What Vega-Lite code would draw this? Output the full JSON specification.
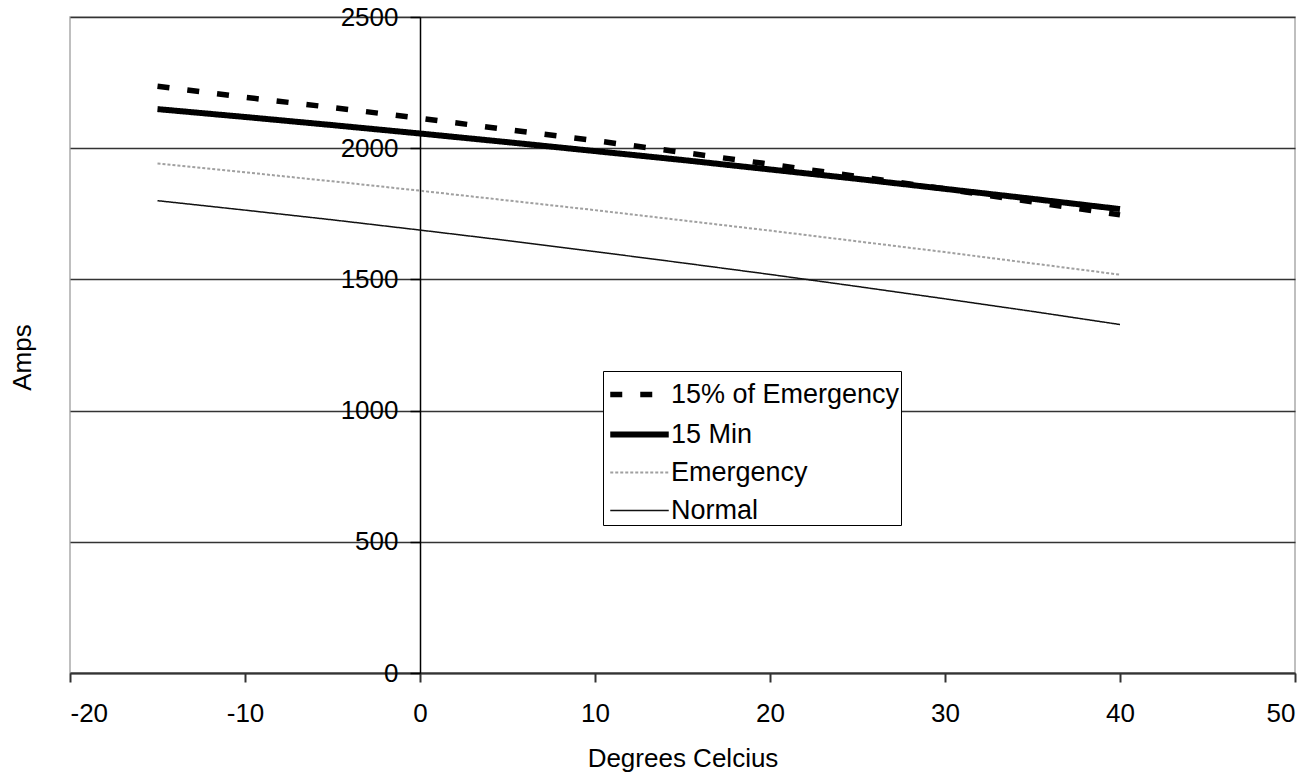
{
  "$schema": "https://vega.github.io/schema/vega-lite/v6.json",
  "width": 1225,
  "height": 656,
  "autosize": {"type": "none"},
  "padding": {"left": 70, "top": 17, "right": 20, "bottom": 104},
  "background": "white",
  "config": {
    "font": "Liberation Sans",
    "view": {"stroke": "#aaaaaa", "strokeWidth": 1.5},
    "axis": {"labelFont": "Liberation Sans", "titleFont": "Liberation Sans", "labelColor": "#000", "titleColor": "#000", "labelFontSize": 26, "titleFontSize": 26, "titleFontWeight": "normal"},
    "legend": {"labelFont": "Liberation Sans", "labelFontSize": 27, "labelColor": "#000"}
  },
  "data": {
    "values": [
      {"series": "15% of Emergency", "t": -15, "amps": 2236},
      {"series": "15% of Emergency", "t": -10, "amps": 2194},
      {"series": "15% of Emergency", "t": -5, "amps": 2155},
      {"series": "15% of Emergency", "t": 0, "amps": 2114},
      {"series": "15% of Emergency", "t": 5, "amps": 2071},
      {"series": "15% of Emergency", "t": 10, "amps": 2029},
      {"series": "15% of Emergency", "t": 15, "amps": 1984},
      {"series": "15% of Emergency", "t": 20, "amps": 1939},
      {"series": "15% of Emergency", "t": 25, "amps": 1892},
      {"series": "15% of Emergency", "t": 30, "amps": 1845},
      {"series": "15% of Emergency", "t": 35, "amps": 1795},
      {"series": "15% of Emergency", "t": 40, "amps": 1746},
      {"series": "15 Min", "t": -15, "amps": 2149},
      {"series": "15 Min", "t": -10, "amps": 2119},
      {"series": "15 Min", "t": -5, "amps": 2088},
      {"series": "15 Min", "t": 0, "amps": 2056},
      {"series": "15 Min", "t": 5, "amps": 2023},
      {"series": "15 Min", "t": 10, "amps": 1989},
      {"series": "15 Min", "t": 15, "amps": 1955},
      {"series": "15 Min", "t": 20, "amps": 1919},
      {"series": "15 Min", "t": 25, "amps": 1883},
      {"series": "15 Min", "t": 30, "amps": 1845},
      {"series": "15 Min", "t": 35, "amps": 1807},
      {"series": "15 Min", "t": 40, "amps": 1768},
      {"series": "Emergency", "t": -15, "amps": 1942},
      {"series": "Emergency", "t": -10, "amps": 1908},
      {"series": "Emergency", "t": -5, "amps": 1874},
      {"series": "Emergency", "t": 0, "amps": 1838},
      {"series": "Emergency", "t": 5, "amps": 1801},
      {"series": "Emergency", "t": 10, "amps": 1764},
      {"series": "Emergency", "t": 15, "amps": 1725},
      {"series": "Emergency", "t": 20, "amps": 1686},
      {"series": "Emergency", "t": 25, "amps": 1645},
      {"series": "Emergency", "t": 30, "amps": 1604},
      {"series": "Emergency", "t": 35, "amps": 1561},
      {"series": "Emergency", "t": 40, "amps": 1518},
      {"series": "Normal", "t": -15, "amps": 1800},
      {"series": "Normal", "t": -10, "amps": 1764},
      {"series": "Normal", "t": -5, "amps": 1727},
      {"series": "Normal", "t": 0, "amps": 1688},
      {"series": "Normal", "t": 5, "amps": 1648},
      {"series": "Normal", "t": 10, "amps": 1606},
      {"series": "Normal", "t": 15, "amps": 1563},
      {"series": "Normal", "t": 20, "amps": 1519},
      {"series": "Normal", "t": 25, "amps": 1473},
      {"series": "Normal", "t": 30, "amps": 1426},
      {"series": "Normal", "t": 35, "amps": 1378},
      {"series": "Normal", "t": 40, "amps": 1328}
    ]
  },
  "mark": {"type": "line", "strokeCap": "butt"},
  "encoding": {
    "x": {
      "field": "t", "type": "quantitative",
      "scale": {"domain": [-20, 50], "nice": false, "zero": false},
      "axis": {
        "values": [-20, -10, 0, 10, 20, 30, 40, 50],
        "labelExpr": "'' + datum.value",
        "grid": false,
        "domainColor": "#333", "domainWidth": 2,
        "tickColor": "#333", "tickWidth": 2, "tickSize": 9,
        "labelPadding": 18,
        "title": "Degrees Celcius",
        "titlePadding": 19
      }
    },
    "y": {
      "field": "amps", "type": "quantitative",
      "scale": {"domain": [0, 2500], "nice": false},
      "axis": {
        "values": [0, 500, 1000, 1500, 2000, 2500],
        "labelExpr": "'' + datum.value",
        "offset": -350,
        "grid": true, "gridColor": "#333", "gridWidth": 1.5,
        "domainColor": "#000", "domainWidth": 1.5,
        "tickColor": "#000", "tickWidth": 1.5, "tickSize": 10,
        "labelPadding": 12,
        "title": "Amps",
        "titleAngle": -90,
        "titleX": -398,
        "titleY": 340,
        "titleAlign": "center",
        "titleBaseline": "middle"
      }
    },
    "color": {
      "field": "series", "type": "nominal",
      "scale": {"domain": ["15% of Emergency", "15 Min", "Emergency", "Normal"], "range": ["#000000", "#000000", "#a0a0a0", "#111111"]},
      "legend": {
        "title": null,
        "orient": "none",
        "legendX": 533,
        "legendY": 354,
        "symbolType": "M-1.5,0H1.5",
        "symbolSize": 1521,
        "symbolOffset": 13,
        "labelOffset": 9,
        "rowPadding": 4,
        "padding": 1,
        "strokeColor": "#000",
        "fillColor": "white",
        "labelLimit": 400
      }
    },
    "strokeDash": {
      "field": "series", "type": "nominal",
      "scale": {"domain": ["15% of Emergency", "15 Min", "Emergency", "Normal"], "range": [[12, 18], [1, 0], [3, 2], [1, 0]]},
      "legend": {
        "title": null,
        "orient": "none",
        "legendX": 533,
        "legendY": 354,
        "symbolType": "M-1.5,0H1.5",
        "symbolSize": 1521,
        "symbolOffset": 13,
        "labelOffset": 9,
        "rowPadding": 4,
        "padding": 1,
        "strokeColor": "#000",
        "fillColor": "white",
        "labelLimit": 400
      }
    },
    "strokeWidth": {
      "field": "series", "type": "nominal",
      "scale": {"type": "ordinal", "domain": ["15% of Emergency", "15 Min", "Emergency", "Normal"], "range": [5.5, 6, 2, 1.5]},
      "legend": {
        "title": null,
        "orient": "none",
        "legendX": 533,
        "legendY": 354,
        "symbolType": "M-1.5,0H1.5",
        "symbolSize": 1521,
        "symbolOffset": 13,
        "labelOffset": 9,
        "rowPadding": 4,
        "padding": 1,
        "strokeColor": "#000",
        "fillColor": "white",
        "labelLimit": 400
      }
    }
  }
}
